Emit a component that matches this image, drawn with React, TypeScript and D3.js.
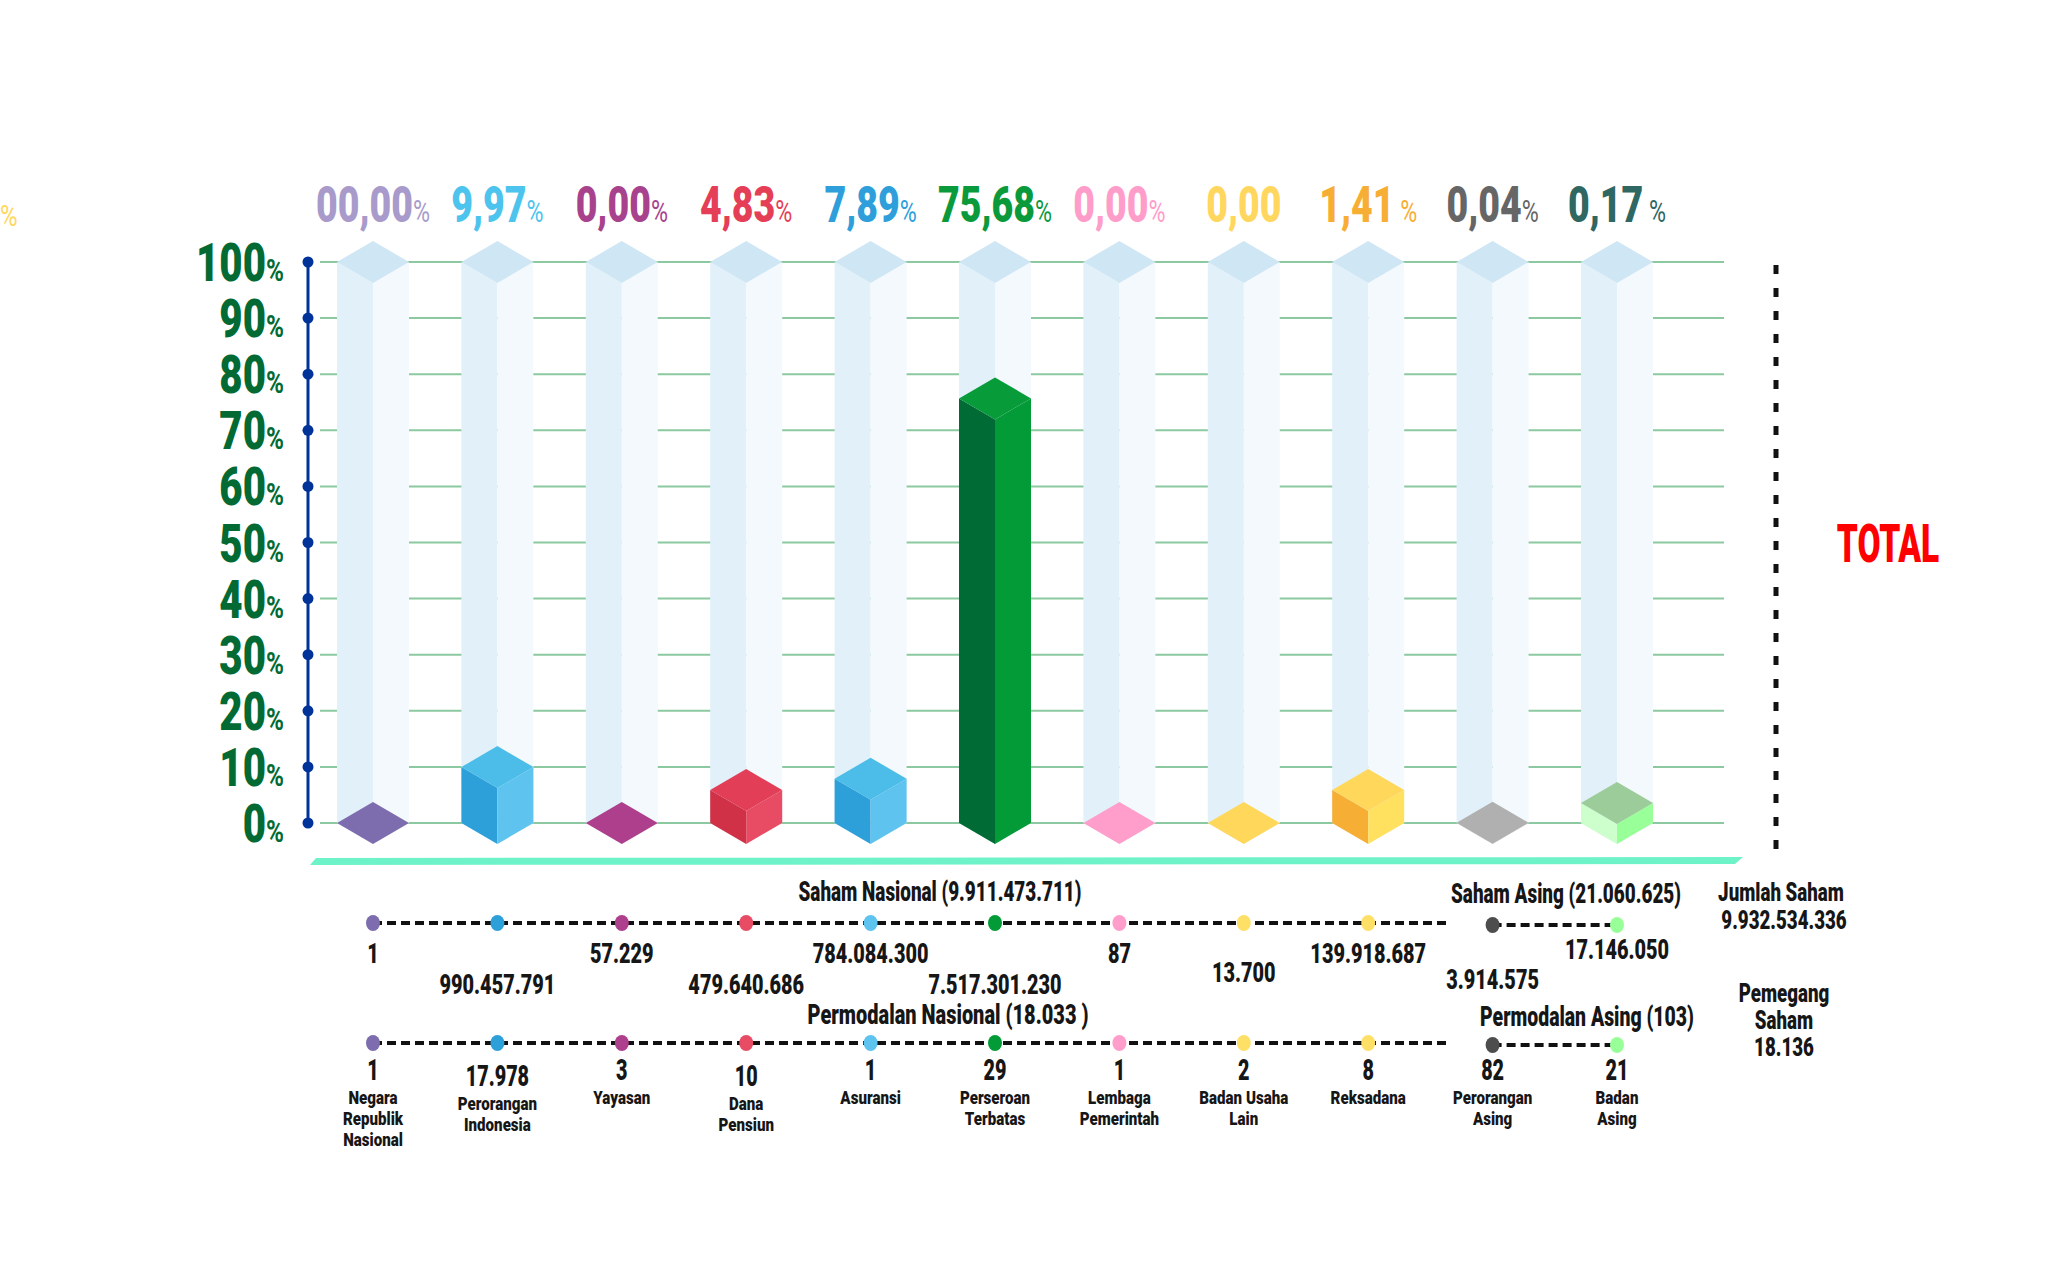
import React from "react";
import * as d3 from "d3";

// ---------- data ----------
const categories = [
  "Negara Republik Nasional",
  "Perorangan Indonesia",
  "Yayasan",
  "Dana Pensiun",
  "Asuransi",
  "Perseroan Terbatas",
  "Lembaga Pemerintah",
  "Badan Usaha Lain",
  "Reksadana",
  "Perorangan Asing",
  "Badan Asing",
];
const categoryLines = [
  ["Negara", "Republik", "Nasional"],
  ["Perorangan", "Indonesia"],
  ["Yayasan"],
  ["Dana", "Pensiun"],
  ["Asuransi"],
  ["Perseroan", "Terbatas"],
  ["Lembaga", "Pemerintah"],
  ["Badan Usaha", "Lain"],
  ["Reksadana"],
  ["Perorangan", "Asing"],
  ["Badan", "Asing"],
];
const percentValues = [0, 9.97, 0, 4.83, 7.89, 75.68, 0, 0, 1.41, 0.04, 0.17];
const percentLabels = ["00,00", "9,97", "0,00", "4,83", "7,89", "75,68", "0,00", "0,00", "1,41", "0,04", "0,17"];
const percentSuffix = ["%", "%", "%", "%", "%", "%", "%", "", " %", "%", " %"];
const shareLabels = [
  "1", "990.457.791", "57.229", "479.640.686", "784.084.300", "7.517.301.230",
  "87", "13.700", "139.918.687", "3.914.575", "17.146.050",
];
const holderLabels = ["1", "17.978", "3", "10", "1", "29", "1", "2", "8", "82", "21"];
const nationalCount = 9; // first 9 categories are national, rest foreign
const yTicks = [0, 10, 20, 30, 40, 50, 60, 70, 80, 90, 100];

const titleShares = "Saham Nasional  (9.911.473.711)";
const titleSharesForeign = "Saham Asing (21.060.625)";
const titleHolders = "Permodalan Nasional (18.033 )";
const titleHoldersForeign = "Permodalan Asing (103)";
const totalShares = ["Jumlah Saham", "9.932.534.336"];
const totalHolders = ["Pemegang", "Saham", "18.136"];

// ---------- colours ----------
const labelColors = ["#A89BCB", "#4DC4EE", "#A8428D", "#E53E57", "#2E9FDB", "#0A9A3B", "#FF9DCA", "#FFD75E", "#F7AE35", "#666666", "#2F6763"];
const topColors = ["#7E6DAE", "#4BBDE8", "#AE3F8C", "#E23E57", "#4BBDE8", "#079B3A", "#FF9ECB", "#FFD75A", "#FFD75A", "#B0B0B0", "#9BCC9A"];
const leftColors = ["#7E6DAE", "#2D9FD9", "#AE3F8C", "#D03147", "#2D9FD9", "#006B35", "#FF9ECB", "#FFD75A", "#F7AE35", "#B0B0B0", "#CCFFCC"];
const rightColors = ["#7E6DAE", "#5EC3EE", "#AE3F8C", "#E84C64", "#5EC3EE", "#039B38", "#FF9ECB", "#FFD75A", "#FFE15F", "#B0B0B0", "#99FF99"];
const dotColors = ["#7E6DAE", "#2D9FD9", "#AE3F8C", "#E84C64", "#5EC3EE", "#039B38", "#FF9ECB", "#FFE066", "#FFE066", "#4D4D4D", "#99FF99"];

// ---------- layout ----------
const W = 2048;
const H = 1267;
const FONT = "Roboto, 'Liberation Sans', Arial, sans-serif";
const shareOffsets = [40, 71, 40, 71, 40, 71, 40, 59, 40, 66, 36];
const holderOffsets = [37, 43, 37, 43, 37, 37, 37, 37, 37, 37, 37];

type STextProps = {
  x: number;
  y: number;
  size: number;
  fill?: string;
  sx?: number;
  anchor?: "start" | "middle" | "end";
  weight?: number;
  children: React.ReactNode;
};

function SText({ x, y, size, fill = "#161616", sx = 0.7, anchor = "middle", weight = 900, children }: STextProps) {
  return (
    <text
      transform={`translate(${x},${y}) scale(${sx},1)`}
      textAnchor={anchor}
      fontSize={size}
      fontWeight={weight}
      fill={fill}
      fontFamily={FONT}
    >
      {children}
    </text>
  );
}

const pts = (p: [number, number][]) => p.map((d) => d.join(",")).join(" ");

export default function App() {
  const x = d3.scalePoint<string>().domain(categories).range([373, 1617]);
  const y = d3.scaleLinear().domain([0, 100]).range([823, 262]);
  const minBlock = d3.scaleThreshold<number, number>().domain([0.1, 1]).range([0, 20, 33]);
  const hw = 36;
  const hh = 21;
  const y0 = y(0);
  const yTop = y(100);
  const step = x.step();

  const prism = (cx: number, yt: number, key: string, top: string, left: string, right: string, drawSides: boolean) => (
    <g key={key}>
      {drawSides && (
        <>
          <polygon points={pts([[cx - hw, yt], [cx, yt + hh], [cx, y0 + hh], [cx - hw, y0]])} fill={left} />
          <polygon points={pts([[cx, yt + hh], [cx + hw, yt], [cx + hw, y0], [cx, y0 + hh]])} fill={right} />
        </>
      )}
      <polygon points={pts([[cx - hw, yt], [cx, yt - hh], [cx + hw, yt], [cx, yt + hh]])} fill={top} />
    </g>
  );

  const row1 = 923;
  const row2 = 1043;
  const natEnd = (x(categories[nationalCount - 1]) as number) + step * 0.66;

  const dotRow = (ry: number, keyp: string) => (
    <g key={keyp}>
      <line x1={x(categories[0])} x2={natEnd} y1={ry} y2={ry} stroke="#111" strokeWidth={4} strokeDasharray="9 5" />
      <line
        x1={x(categories[nationalCount])}
        x2={x(categories[categories.length - 1])}
        y1={ry + 2}
        y2={ry + 2}
        stroke="#111"
        strokeWidth={4}
        strokeDasharray="9 5"
      />
      {categories.map((c, i) => (
        <ellipse key={c} cx={x(c)} cy={i >= nationalCount ? ry + 2 : ry} rx={7} ry={8} fill={dotColors[i]} />
      ))}
    </g>
  );

  return (
    <svg width={W} height={H} style={{ position: "absolute", left: 0, top: 0, background: "#fff" }}>
      <rect width={W} height={H} fill="#fff" />

      {/* stray label at left edge */}
      <SText x={0} y={226} size={30} fill="#FFD75E" anchor="start" weight={400} sx={0.8}>
        %
      </SText>

      {/* gridlines */}
      {yTicks.map((t) => (
        <line key={t} x1={320} x2={1724} y1={y(t)} y2={y(t)} stroke="#8CC9A0" strokeWidth={2} />
      ))}

      {/* y axis */}
      <line x1={308} x2={308} y1={yTop} y2={y0} stroke="#003399" strokeWidth={3} />
      {yTicks.map((t) => (
        <circle key={t} cx={308} cy={y(t)} r={5.5} fill="#003399" />
      ))}
      {yTicks.map((t) => (
        <SText key={t} x={284} y={y(t) + 19} size={53} fill="#036A33" anchor="end" sx={0.76}>
          {t}
          <tspan fontSize={32} fontWeight={700}>%</tspan>
        </SText>
      ))}

      {/* ghost columns */}
      {categories.map((c, i) => prism(x(c) as number, yTop, "g" + i, "#CFE6F4", "#E2F1F9", "#F3F9FD", true))}

      {/* value prisms */}
      {categories.map((c, i) => {
        const v = percentValues[i];
        const hgt = Math.max(y0 - y(v), minBlock(v));
        return prism(x(c) as number, y0 - hgt, "b" + i, topColors[i], leftColors[i], rightColors[i], hgt > 0);
      })}

      {/* percentage labels */}
      {categories.map((c, i) => (
        <SText key={c} x={x(c) as number} y={222} size={50} fill={labelColors[i]} sx={0.75}>
          {percentLabels[i]}
          <tspan fontSize={31} fontWeight={400}>
            {percentSuffix[i]}
          </tspan>
        </SText>
      ))}

      {/* base strip */}
      <polygon points={pts([[316, 858], [1743, 857], [1735, 864], [310, 865]])} fill="#6EF3C8" />

      {/* right dashed divider */}
      <line x1={1776} x2={1776} y1={265} y2={856} stroke="#111" strokeWidth={5} strokeDasharray="9 14" />
      <SText x={1888} y={562} size={54} fill="#FF0000" sx={0.62}>
        TOTAL
      </SText>

      {/* shares row */}
      <SText x={940} y={901} size={27} sx={0.7}>
        {titleShares}
      </SText>
      <SText x={1566} y={903} size={27} sx={0.7}>
        {titleSharesForeign}
      </SText>
      {dotRow(row1, "r1")}
      {categories.map((c, i) => (
        <SText key={c} x={x(c) as number} y={row1 + shareOffsets[i]} size={28} sx={0.71}>
          {shareLabels[i]}
        </SText>
      ))}
      <SText x={1781} y={901} size={26} sx={0.72}>
        {totalShares[0]}
      </SText>
      <SText x={1784} y={929} size={26} sx={0.72}>
        {totalShares[1]}
      </SText>

      {/* holders row */}
      <SText x={948} y={1024} size={27} sx={0.74}>
        {titleHolders}
      </SText>
      <SText x={1587} y={1026} size={27} sx={0.72}>
        {titleHoldersForeign}
      </SText>
      {dotRow(row2, "r2")}
      {categories.map((c, i) => (
        <SText key={c} x={x(c) as number} y={row2 + holderOffsets[i]} size={30} sx={0.66}>
          {holderLabels[i]}
        </SText>
      ))}
      {categories.map((c, i) =>
        categoryLines[i].map((ln, j) => (
          <SText key={c + j} x={x(c) as number} y={row2 + holderOffsets[i] + 24 + j * 21} size={18} sx={0.84}>
            {ln}
          </SText>
        ))
      )}
      {totalHolders.map((t, j) => (
        <SText key={t} x={1784} y={1002 + j * 27} size={26} sx={0.72}>
          {t}
        </SText>
      ))}
    </svg>
  );
}
